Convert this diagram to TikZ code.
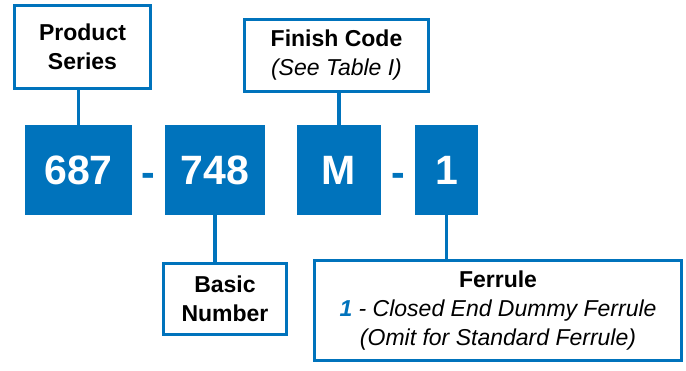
\documentclass[tikz,border=0pt]{standalone}
\usepackage{fontspec}
\setmainfont{Liberation Sans}
\definecolor{cblue}{RGB}{0,115,188}
\begin{document}
\begin{tikzpicture}[x=1pt,y=-1pt,
  codebox/.style={fill=cblue,draw=none,inner sep=0pt,text=white,
    font=\fontsize{41}{48}\selectfont\bfseries},
  labelbox/.style={draw=cblue,line width=3pt,fill=white,inner sep=0pt,align=center,
    font=\fontsize{23}{29}\selectfont},
  dashtext/.style={text=cblue,inner sep=0pt,anchor=base,
    font=\fontsize{41}{48}\selectfont\bfseries},
  link/.style={draw=cblue,line width=3.2pt}]
\useasboundingbox (0,0) rectangle (686,370);
% code boxes
\node[codebox,minimum width=107pt,minimum height=90pt] (c687) at (78.5,170) {687};
\node[codebox,minimum width=100pt,minimum height=90pt] (c748) at (215,170) {748};
\node[codebox,minimum width=84pt,minimum height=90pt] (cM) at (339,170) {M};
\node[codebox,minimum width=63pt,minimum height=90pt] (c1) at (446.5,170) {1};
% dashes
\node[dashtext] (d1) at (148.5,186) {-};
\node[dashtext] (d2) at (398,186) {-};
% label boxes
\node[labelbox,minimum width=136pt,minimum height=83pt] (ps) at (82.5,47)
  {\bfseries Product\\\bfseries Series};
\node[labelbox,minimum width=184pt,minimum height=72pt] (fc) at (336.5,55.5)
  {\bfseries Finish Code\\\itshape (See Table I)};
\node[labelbox,minimum width=123pt,minimum height=71pt] (bn) at (225,299)
  {\bfseries Basic\\\bfseries Number};
\node[labelbox,minimum width=367pt,minimum height=100pt] (fr) at (498,310.5)
  {\bfseries Ferrule\\\itshape{\color{cblue}\bfseries 1} - Closed End Dummy Ferrule\\\itshape (Omit for Standard Ferrule)};
% connectors
\draw[link] (c687.north) -- (c687.north |- ps.south);
\draw[link] (c748.south) -- (c748.south |- bn.north);
\draw[link] (cM.north) -- (cM.north |- fc.south);
\draw[link] (c1.south) -- (c1.south |- fr.north);
\end{tikzpicture}
\end{document}
